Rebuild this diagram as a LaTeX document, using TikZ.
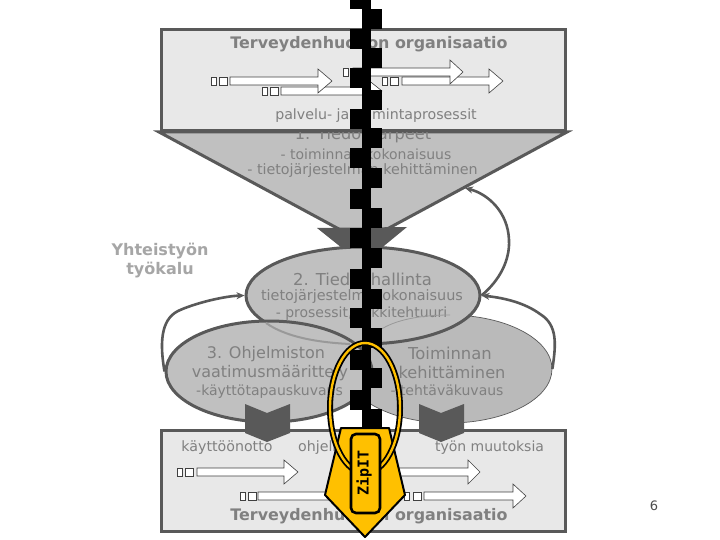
\documentclass[tikz,border=0pt]{standalone}
\usepackage{fontspec}
\setmainfont{DejaVu Sans}
\newfontfamily\zipfont{DejaVu Sans Mono}
\usetikzlibrary{shapes.geometric,arrows.meta}
\definecolor{dk}{HTML}{595959}
\definecolor{boxf}{HTML}{E8E8E8}
\definecolor{ell}{HTML}{C0C0C0}
\definecolor{txt}{HTML}{808080}
\definecolor{zip}{HTML}{FFC000}
\newcommand{\fsz}[1]{\fontsize{#1}{#1}\selectfont}
\newcommand{\flowarr}[4]{\draw[flow] (#1,#4-4) -- (#2,#4-4) -- (#2,#4-12) -- (#3,#4) -- (#2,#4+12) -- (#2,#4+4) -- (#1,#4+4) -- cycle;}
\newcommand{\twosq}[3]{\draw[flow] (#1,#3-4) rectangle ++(5,8); \draw[flow] (#2,#3-4) rectangle ++(8,8);}
\tikzset{
 x=1pt,y=-1pt,
 panel/.style={draw=dk,line width=3pt,fill=boxf},
 flow/.style={draw=black!75,line width=0.6pt,fill=white},
 lab/.style={inner sep=0pt,text=txt,anchor=center},
 loopline/.style={draw=dk,line width=2.6pt},
 bubble/.style={ellipse,inner sep=0pt},
 chev/.style={fill=dk,draw=none},
 zipblk/.style={fill=black,draw=none},
}
\begin{document}
\begin{tikzpicture}
\useasboundingbox[fill=white] (0,0) rectangle (720,540);
% funnel
\draw[draw=dk,line width=3pt,fill=ell,line join=miter] (159,132) -- (567,132) -- (363,242) -- cycle;
\node[lab,font=\fsz{16.2}] (t1) at (363,135) {1. Tiedontarpeet};
\node[lab,font=\fsz{14}] (t1b) at (366,154) {- toiminnan kokonaisuus};
\node[lab,font=\fsz{14.3}] (t1c) at (362.5,171) {- tietojärjestelmän kehittäminen};
% top panel
\draw[panel] (161,30) rectangle (565,131);
\node[lab,font=\bfseries\fsz{15.9}] (t0) at (369,44) {Terveydenhuollon organisaatio};
\flowarr{281}{367}{382}{91}
\flowarr{230}{318}{332}{81}
\flowarr{402}{489}{503}{81}
\flowarr{353}{450}{463}{72}
\twosq{211}{219}{81}
\twosq{262}{270}{91}
\twosq{343}{352}{72}
\twosq{382}{390}{81}
\node[lab,font=\fsz{14.2}] (t2) at (376,116) {palvelu- ja toimintaprosessit};
% dark arrow head
\fill[chev] (317,228) -- (407,227) -- (362,264) -- cycle;
% ellipses
\node[bubble,draw=dk,line width=0.7pt,fill=ell!97!black,minimum width=206pt,minimum height=108pt] (e4) at (449,369) {};
\node[bubble,draw=dk,line width=3pt,fill=ell,minimum width=234pt,minimum height=97pt] (e2) at (363,295.5) {};
\node[lab,font=\fsz{16.4}] (t3) at (362.5,279) {2. Tiedonhallinta};
\node[lab,font=\fsz{14.4}] (t4) at (362,297) {tietojärjestelmäkokonaisuus};
\node[lab,font=\fsz{14}] (t5) at (361.5,314) {- prosessit, arkkitehtuuri};
\node[bubble,draw=dk,line width=3pt,fill=ell,minimum width=206pt,minimum height=101pt] (e3) at (269,371.5) {};
\draw[draw=black!40,line width=2pt] (266,323) .. controls (290,340) and (330,343) .. (350,344);
\draw[draw=black!40,line width=0.8pt] (380,330) .. controls (395,320) and (420,315) .. (450,315);
\node[lab,font=\fsz{16}] (t6) at (266,354) {3. Ohjelmiston};
\node[lab,font=\fsz{16}] (t7) at (270,373) {vaatimusmäärittely};
\node[lab,font=\fsz{14}] (t8) at (269.5,392) {-käyttötapauskuvaus};
\node[lab,font=\fsz{16.4}] (t9) at (450,353) {Toiminnan};
\node[lab,font=\fsz{16.2}] (t10) at (452,372) {kehittäminen};
\node[lab,font=\fsz{14}] (t11) at (447,390) {- tehtäväkuvaus};
% loops
\draw[loopline,-{Stealth[length=8pt,width=7pt]}] (e3.west) .. controls (160,345) and (160,320) .. (178,311) .. controls (195,303) and (225,296) .. (e2.west);
\draw[loopline,-{Stealth[length=8pt,width=7pt]}] (e4.east) .. controls (556,345) and (558,325) .. (540,314) .. controls (525,303) and (505,298) .. (e2.east);
\draw[loopline,-{Stealth[length=8pt,width=7pt]}] (e2.east) .. controls (500,280) and (510,260) .. (509,240) .. controls (508,212) and (488,194) .. (465,188);
% bottom panel
\draw[panel] (161,430) rectangle (565,531);
\node[lab,font=\fsz{14.2}] (t12) at (227,448) {käyttöönotto};
\node[lab,font=\fsz{14.2}] (t13) at (335,448) {ohjelmisto};
\node[lab,font=\fsz{14}] (t14) at (489.5,448) {työn muutoksia};
\flowarr{197}{284}{298}{472}
\flowarr{258}{370}{384}{496}
\flowarr{350}{468}{480}{472}
\flowarr{424}{513}{526}{496}
\twosq{177}{185}{472}
\twosq{240}{248}{496}
\twosq{404}{413}{496}
\node[lab,font=\bfseries\fsz{15.9}] (t15) at (369,516) {Terveydenhuollon organisaatio};
% chevrons
\fill[chev] (245,404) -- (267,413) -- (290,404) -- (290,433) -- (267,442) -- (245,433) -- cycle;
\fill[chev] (419,404) -- (441,413) -- (464,404) -- (464,433) -- (441,442) -- (419,433) -- cycle;
% zipper
\fill[zipblk] (362,0) rectangle (371,428);
\foreach \yy in {-11,29,68,109,148,189,228,269,308,350,390} {\fill[zipblk] (350,\yy) rectangle (371,\yy+20);}
\foreach \yy in {9,48,90,128,168,208,248,289,328,368,409} {\fill[zipblk] (362,\yy) rectangle (382,\yy+20);}
% pull
\draw[fill=zip,draw=black,line width=2pt,line join=round] (341,428) -- (389,428) -- (405,495) -- (365,537) -- (325,495) -- cycle;
\node[bubble,draw=black,line width=6pt,minimum width=70pt,minimum height=130pt] (ring) at (365,408) {};
\node[bubble,draw=zip,line width=2.4pt,minimum width=70pt,minimum height=130pt] (ringb) at (365,408) {};
\node[draw=black,line width=2.6pt,fill=zip,rounded corners=5pt,minimum width=29pt,minimum height=79pt,inner sep=0pt] (tag) at (365.5,473.5) {};
\node[rotate=90,inner sep=0pt,text=black,font=\zipfont\bfseries\fsz{15}] (zt) at (364,473) {ZipIT};
% outside labels
\node[lab,font=\bfseries\fsz{16},text=black!35,align=center] (t16) at (160,261) {Yhteistyön\\[3pt]työkalu};
\node[lab,font=\fsz{13},text=black!70] (t17) at (654,506) {6};
\end{tikzpicture}
\end{document}
